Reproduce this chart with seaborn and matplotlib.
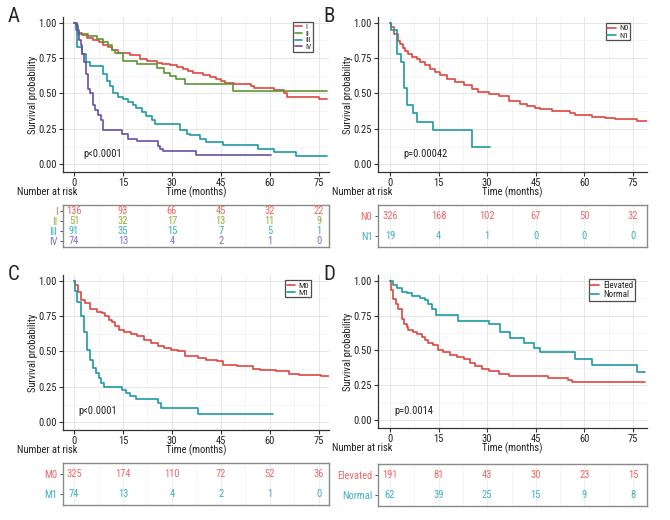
import matplotlib
matplotlib.use('Agg')
import matplotlib.pyplot as plt
from matplotlib import font_manager as fm
import seaborn as sns

# ---------------- data ----------------
time_ticks = [0, 15, 30, 45, 60, 75]

# Panel A - stage
a_groups = ['I', 'II', 'III', 'IV']
a_I_t = [0, 0.5, 1.3, 2.5, 4, 5.9, 7.5, 9, 10.5, 11.5, 13.6, 17.1, 20.2, 22.5, 25.3, 27, 29.3, 31.5, 33.4, 35, 36.4,
         39.5, 41.6, 43.6, 45.1, 46.2, 49.2, 54.3, 55.3, 61.4, 64.5, 65.2, 75.2, 77.7]
a_I_s = [1.0, 0.97, 0.93, 0.915, 0.895, 0.875, 0.86, 0.84, 0.825, 0.81, 0.785, 0.77, 0.745, 0.73, 0.717, 0.705, 0.698,
         0.685, 0.675, 0.66, 0.646, 0.633, 0.617, 0.605, 0.588, 0.577, 0.57, 0.553, 0.539, 0.523, 0.505, 0.478, 0.458, 0.458]
a_II_t = [0, 0.5, 1.3, 4.3, 6.9, 9, 10.5, 11.5, 12.5, 15.0, 19.2, 25.3, 27.5, 29.3, 31.4, 34.0, 48.6, 77.7]
a_II_s = [1.0, 0.98, 0.92, 0.905, 0.886, 0.86, 0.84, 0.81, 0.785, 0.73, 0.71, 0.68, 0.645, 0.62, 0.60, 0.57, 0.52, 0.52]
a_III_t = [0, 0.5, 1.0, 2.3, 3.7, 4.9, 9.0, 10.0, 11.0, 12.0, 13.5, 15.0, 16.6, 18.0, 19.0, 20.7, 22.2, 23.8, 24.8,
           32.4, 34.5, 35.5, 38.5, 40.5, 45.6, 56.3, 61.4, 68.2, 77.7]
a_III_s = [1.0, 0.95, 0.83, 0.78, 0.72, 0.695, 0.64, 0.59, 0.55, 0.50, 0.476, 0.462, 0.44, 0.417, 0.40, 0.37, 0.34,
           0.31, 0.283, 0.24, 0.21, 0.203, 0.18, 0.156, 0.137, 0.108, 0.085, 0.056, 0.056]
a_IV_t = [0, 0.8, 1.5, 2.0, 2.5, 3.0, 3.7, 4.4, 5.0, 5.9, 6.5, 7.3, 8.3, 8.9, 14.6, 16.6, 19.2, 25.8, 26.5, 27.3, 37.5, 60.5]
a_IV_s = [1.0, 0.95, 0.88, 0.84, 0.78, 0.72, 0.64, 0.53, 0.5, 0.42, 0.38, 0.35, 0.31, 0.245, 0.215, 0.18, 0.163, 0.13,
          0.11, 0.095, 0.062, 0.062]
a_risk = {'I': [136, 93, 66, 45, 32, 22], 'II': [51, 32, 17, 13, 11, 9],
          'III': [91, 35, 15, 7, 5, 1], 'IV': [74, 13, 4, 2, 1, 0]}

# Panel B - N stage
b_groups = ['N0', 'N1']
b_N0_t = [0, 0.3, 1.34, 2.37, 3.1, 4.1, 4.6, 5.7, 6.7, 8.2, 9.3, 10.8, 12.4, 13.9, 15.5, 17.5, 20.1, 22.7, 25.2, 27.3,
          30.4, 33.5, 36.6, 40.2, 42.2, 44.8, 46.4, 50.0, 55.6, 57.2, 62.3, 66.4, 69.5, 76.2, 79.3]
b_N0_s = [1.0, 0.97, 0.92, 0.87, 0.85, 0.82, 0.80, 0.78, 0.757, 0.745, 0.72, 0.70, 0.674, 0.65, 0.627, 0.603, 0.58,
          0.557, 0.528, 0.51, 0.497, 0.48, 0.45, 0.427, 0.41, 0.398, 0.387, 0.375, 0.363, 0.351, 0.337, 0.325, 0.316,
          0.304, 0.304]
b_N1_t = [0, 0.3, 2.2, 3.5, 4.4, 5.2, 7.2, 8.2, 13.4, 25.2, 31.0]
b_N1_s = [1.0, 0.95, 0.78, 0.72, 0.54, 0.42, 0.36, 0.30, 0.24, 0.12, 0.12]
b_risk = {'N0': [326, 168, 102, 67, 50, 32], 'N1': [19, 4, 1, 0, 0, 0]}

# Panel C - M stage
c_groups = ['M0', 'M1']
c_M0_t = [0, 0.3, 1.3, 2.1, 3.4, 5.0, 7.0, 8.6, 9.6, 10.6, 11.7, 12.7, 13.7, 15.3, 17.4, 19.4, 21.5, 23.5, 25.6, 27.7,
          29.8, 31.8, 33.9, 36.9, 38.0, 40.6, 43.7, 45.7, 49.9, 55.0, 57.1, 61.8, 65.9, 69.0, 75.7, 78.5]
c_M0_s = [1.0, 0.97, 0.92, 0.864, 0.84, 0.798, 0.782, 0.77, 0.747, 0.723, 0.705, 0.677, 0.653, 0.634, 0.622, 0.606,
          0.582, 0.563, 0.54, 0.523, 0.512, 0.50, 0.47, 0.465, 0.453, 0.441, 0.43, 0.406, 0.395, 0.378, 0.371, 0.36,
          0.343, 0.334, 0.324, 0.324]
c_M1_t = [0, 0.3, 0.9, 2.1, 3.1, 3.9, 4.75, 5.8, 6.8, 7.5, 8.4, 9.1, 14.8, 15.8, 17.2, 18.9, 25.6, 26.7, 38.0, 61.0]
c_M1_s = [1.0, 0.93, 0.852, 0.747, 0.64, 0.507, 0.44, 0.38, 0.347, 0.312, 0.277, 0.246, 0.23, 0.203, 0.184, 0.165,
          0.137, 0.097, 0.061, 0.061]
c_risk = {'M0': [325, 174, 110, 72, 52, 36], 'M1': [74, 13, 4, 2, 1, 0]}

# Panel D - marker level
d_groups = ['Elevated', 'Normal']
d_El_t = [0, 0.3, 1.03, 1.75, 2.6, 3.6, 4.4, 5.15, 5.7, 7.2, 8.2, 9.8, 10.8, 11.85, 13.4, 14.9, 16.5, 18.5, 20.6, 22.7,
          24.7, 26.3, 28.3, 30.4, 33.5, 36.6, 48.9, 55.0, 56.1, 78.8]
d_El_s = [1.0, 0.935, 0.865, 0.83, 0.795, 0.726, 0.69, 0.667, 0.644, 0.633, 0.621, 0.598, 0.575, 0.556, 0.54, 0.505,
          0.486, 0.47, 0.454, 0.44, 0.412, 0.388, 0.365, 0.35, 0.33, 0.315, 0.30, 0.288, 0.277, 0.277]
d_No_t = [0, 1.0, 2.06, 3.6, 5.15, 6.7, 9.3, 10.8, 11.85, 13.1, 14.2, 21.1, 30.4, 34.0, 37.1, 41.2, 44.3, 46.4, 57.2,
          62.3, 76.2, 78.8]
d_No_s = [1.0, 0.97, 0.947, 0.92, 0.91, 0.888, 0.877, 0.858, 0.83, 0.795, 0.755, 0.714, 0.686, 0.633, 0.586, 0.551,
          0.516, 0.486, 0.44, 0.393, 0.346, 0.346]
d_risk = {'Elevated': [191, 81, 43, 30, 23, 15], 'Normal': [62, 39, 25, 15, 9, 8]}


# ---------------- style ----------------
def pick_narrow_font():
    regular = ('400', 'normal', 'regular', 'book')
    entries = [f for f in fm.fontManager.ttflist if f.style == 'normal' and str(f.weight).lower() in regular]
    for want in ['Liberation Sans Narrow', 'Roboto Condensed', 'Open Sans Condensed', 'DejaVu Sans Condensed',
                 'Noto Sans Condensed']:
        for f in entries:
            if f.name == want:
                return f.name, f.stretch, True
    for f in entries:
        if str(f.stretch) in ('condensed', 'semi-condensed', 'extra-condensed'):
            return f.name, f.stretch, True
    return 'Liberation Sans', 'normal', False


sns.set_theme(style='white')
font_name, font_stretch, narrow = pick_narrow_font()
plt.rcParams['font.family'] = [font_name, 'DejaVu Sans']
plt.rcParams['font.stretch'] = font_stretch
fs = 7.6 if narrow else 6.6

line_red, line_teal = '#DF4640', '#1E9AA2'
line_green, line_purple = '#5C9634', '#6850A6'
text_red, text_teal = '#EC6A66', '#3DB2BA'
text_green, text_purple = '#9AAE3C', '#8C70C8'

W, H = 670, 520
fig = plt.figure(figsize=(6.7, 5.2), dpi=100)


def box(l, t, r, b):
    return fig.add_axes([l / W, 1 - b / H, (r - l) / W, (b - t) / H])


def panel(letter, pbox, tbox, xlim, curves, groups, risk, tcolors, leg_rt, leg_fs, ptext, pxy, nar_x):
    ax = box(*pbox)
    for (t, s, lab, c) in curves:
        sns.lineplot(x=t, y=s, drawstyle='steps-post', color=c, lw=1.2, label=lab,
                     estimator=None, sort=False, ax=ax)
    ax.set_xlim(*xlim)
    ax.set_ylim(-0.055, 1.04)
    ax.set_xticks(time_ticks)
    ax.set_xticks([7.5, 22.5, 37.5, 52.5, 67.5], minor=True)
    ax.set_yticks([0, 0.25, 0.5, 0.75, 1.0])
    ax.set_yticks([0.125, 0.375, 0.625, 0.875], minor=True)
    ax.set_yticklabels(['0.00', '0.25', '0.50', '0.75', '1.00'])
    ax.grid(True, which='major', color='#E6E6E6', lw=0.7)
    ax.grid(True, which='minor', color='#F1F1F1', lw=0.5)
    for sp in ['top', 'right']:
        ax.spines[sp].set_visible(False)
    for sp in ['left', 'bottom']:
        ax.spines[sp].set_color('#333333')
        ax.spines[sp].set_linewidth(0.9)
    ax.tick_params(axis='both', which='major', length=3, width=0.8, color='#333333',
                   labelsize=fs, pad=1.5, bottom=True, left=True, labelcolor='#222222')
    ax.tick_params(which='minor', length=0)
    ax.set_xlabel('Time (months)', fontsize=fs, color='#222222', va='top')
    ax.xaxis.set_label_coords(0.5, -15 / (pbox[3] - pbox[1]))
    ax.set_ylabel('Survival probability', fontsize=fs, color='#222222', va='center')
    ax.yaxis.set_label_coords(-0.112, 0.5)
    ax.text(pxy[0], pxy[1], ptext, fontsize=fs, ha='left', va='center', color='#222222')
    leg = ax.legend(loc='upper right', bbox_to_anchor=(leg_rt[0] / W, 1 - leg_rt[1] / H),
                    bbox_transform=fig.transFigure, frameon=True, fancybox=False, fontsize=leg_fs,
                    handlelength=1.0, handletextpad=0.4, labelspacing=0.05, borderpad=0.2,
                    borderaxespad=0)
    leg.get_frame().set_edgecolor('#222222')
    leg.get_frame().set_linewidth(0.9)

    # risk table
    tx = box(*tbox)
    n = len(groups)
    for i, g in enumerate(groups):
        y = n - i
        for x, v in zip(time_ticks, risk[g]):
            tx.text(x, y, str(v), ha='center', va='center', fontsize=fs, color=tcolors[i])
    tx.set_xlim(*xlim)
    tx.set_ylim(0.4, n + 0.6)
    tx.set_xticks(time_ticks)
    tx.set_xticks([7.5, 22.5, 37.5, 52.5, 67.5], minor=True)
    tx.set_xticklabels([])
    tx.set_yticks(list(range(n, 0, -1)))
    tx.set_yticklabels(groups)
    for lab, c in zip(tx.get_yticklabels(), tcolors):
        lab.set_color(c)
    tx.tick_params(axis='y', length=2.5, width=0.7, color='#555555', labelsize=fs, pad=1.5, left=True)
    tx.tick_params(axis='x', length=0)
    tx.grid(True, axis='x', which='major', color='#ECECEC', lw=0.6)
    tx.grid(True, axis='x', which='minor', color='#F3F3F3', lw=0.5)
    for sp in tx.spines.values():
        sp.set_color('#8A8A8A')
        sp.set_linewidth(1.0)

    fig.text(nar_x / W, 1 - (pbox[3] + 20) / H, 'Number at risk', fontsize=fs, ha='left', va='center',
             color='#222222')
    fig.text((pbox[0] - 55) / W, 1 - (pbox[1] - 10) / H, letter, fontsize=15, ha='left', va='top')


panel('A', (63, 17, 329, 172), (63, 205, 329, 247), (-3.4, 78.2),
      [(a_I_t, a_I_s, 'I', line_red), (a_II_t, a_II_s, 'II', line_green),
       (a_III_t, a_III_s, 'III', line_teal), (a_IV_t, a_IV_s, 'IV', line_purple)],
      a_groups, a_risk, [text_red, text_green, text_teal, text_purple],
      (313, 22), 5.5, 'p<0.0001', (3.0, 0.07), 17)

panel('B', (378, 17, 647, 172), (378, 205, 647, 247), (-3.7, 79.3),
      [(b_N0_t, b_N0_s, 'N0', line_red), (b_N1_t, b_N1_s, 'N1', line_teal)],
      b_groups, b_risk, [text_red, text_teal],
      (630, 23), 6, 'p=0.00042', (4.0, 0.07), 332)

panel('C', (63, 275, 329, 430), (63, 463, 329, 505), (-3.4, 78.2),
      [(c_M0_t, c_M0_s, 'M0', line_red), (c_M1_t, c_M1_s, 'M1', line_teal)],
      c_groups, c_risk, [text_red, text_teal],
      (311, 280), 6, 'p<0.0001', (1.2, 0.077), 17)

panel('D', (378, 275, 647, 428), (378, 464, 647, 506), (-3.7, 79.3),
      [(d_El_t, d_El_s, 'Elevated', line_red), (d_No_t, d_No_s, 'Normal', line_teal)],
      d_groups, d_risk, [text_red, text_teal],
      (635, 279), 6.5, 'p=0.0014', (1.2, 0.07), 332)

fig.savefig('out.png', dpi=100)
